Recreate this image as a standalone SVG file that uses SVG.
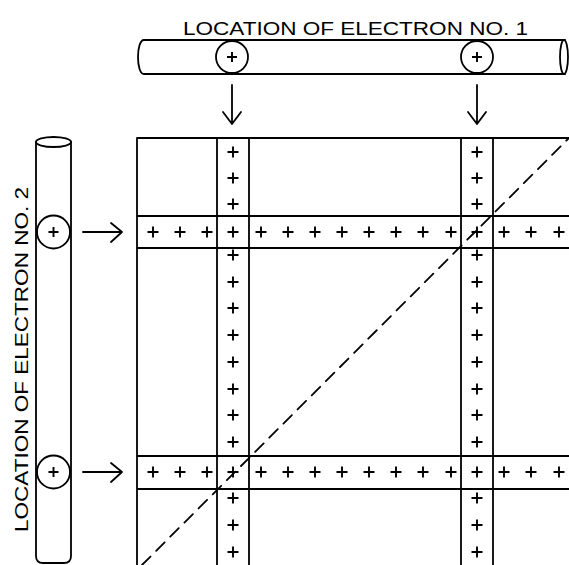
<svg xmlns="http://www.w3.org/2000/svg" xmlns:xlink="http://www.w3.org/1999/xlink" width="569" height="565" viewBox="0 0 569 565">
<style>
.ln{fill:none;stroke:#000;stroke-width:1.8;stroke-linecap:round;stroke-linejoin:round}
.pl{fill:none;stroke:#000;stroke-width:1.9}
.lbl{font-family:"Liberation Sans",Arial,sans-serif;font-size:18px;fill:#000}
</style>
<defs>
<path id="p" class="pl" d="M-5.5,0H5.5M0,-5.5V5.5"/>
<path id="ps" class="pl" d="M-5,0H5M0,-5V5"/>
</defs>
<rect width="569" height="565" fill="#fff"/>
<g id="tube1">
<text class="lbl" x="183" y="35" textLength="345" lengthAdjust="spacingAndGlyphs">LOCATION OF ELECTRON NO. 1</text>
<path class="ln" d="M565,40 H144 C136,40 136,74 144,74 H565"/>
<ellipse class="ln" cx="564" cy="57" rx="4" ry="17"/>
<circle class="ln" cx="232" cy="57" r="16" fill="#fff"/>
<use xlink:href="#ps" x="232" y="57"/>
<circle class="ln" cx="477" cy="57" r="16" fill="#fff"/>
<use xlink:href="#ps" x="477" y="57"/>
</g>
<g id="tube2">
<text class="lbl" transform="translate(28,532) rotate(-90)" x="0" y="0" textLength="345" lengthAdjust="spacingAndGlyphs">LOCATION OF ELECTRON NO. 2</text>
<path class="ln" d="M36,142 V556 Q36,563 43,563 H64 Q71,563 71,556 V142"/>
<ellipse class="ln" cx="53.5" cy="142" rx="17.5" ry="5"/>
<circle class="ln" cx="53.5" cy="232" r="16.5" fill="#fff"/>
<use xlink:href="#ps" x="53.5" y="232"/>
<circle class="ln" cx="53.5" cy="472" r="16.5" fill="#fff"/>
<use xlink:href="#ps" x="53.5" y="472"/>
</g>
<g id="grid">
<path class="ln" d="M137,138 H569 M137,138 V565 M217,138 V565 M249,138 V565 M461,138 V565 M493,138 V565 M137,216 H569 M137,248 H569 M137,456 H569 M137,489 H569"/>
<path class="ln" d="M142,565 L568,139" stroke-dasharray="12 8"/>
<g id="vband1">
<use xlink:href="#p" x="233" y="152"/><use xlink:href="#p" x="233" y="178"/><use xlink:href="#p" x="233" y="204"/>
<use xlink:href="#p" x="233" y="232"/>
<use xlink:href="#p" x="233" y="255"/><use xlink:href="#p" x="233" y="282"/><use xlink:href="#p" x="233" y="308"/><use xlink:href="#p" x="233" y="335"/><use xlink:href="#p" x="233" y="362"/><use xlink:href="#p" x="233" y="389"/><use xlink:href="#p" x="233" y="415"/><use xlink:href="#p" x="233" y="442"/>
<use xlink:href="#p" x="233" y="472"/>
<use xlink:href="#p" x="233" y="498"/><use xlink:href="#p" x="233" y="525"/><use xlink:href="#p" x="233" y="552"/>
</g>
<g id="vband2">
<use xlink:href="#p" x="477" y="152"/><use xlink:href="#p" x="477" y="178"/><use xlink:href="#p" x="477" y="204"/>
<use xlink:href="#p" x="477" y="232"/>
<use xlink:href="#p" x="477" y="255"/><use xlink:href="#p" x="477" y="282"/><use xlink:href="#p" x="477" y="308"/><use xlink:href="#p" x="477" y="335"/><use xlink:href="#p" x="477" y="362"/><use xlink:href="#p" x="477" y="389"/><use xlink:href="#p" x="477" y="415"/><use xlink:href="#p" x="477" y="442"/>
<use xlink:href="#p" x="477" y="472"/>
<use xlink:href="#p" x="477" y="498"/><use xlink:href="#p" x="477" y="525"/><use xlink:href="#p" x="477" y="552"/>
</g>
<g id="hband1">
<use xlink:href="#p" x="153" y="232"/><use xlink:href="#p" x="180" y="232"/><use xlink:href="#p" x="207" y="232"/>
<use xlink:href="#p" x="261" y="232"/><use xlink:href="#p" x="288" y="232"/><use xlink:href="#p" x="315" y="232"/><use xlink:href="#p" x="342" y="232"/><use xlink:href="#p" x="369" y="232"/><use xlink:href="#p" x="396" y="232"/><use xlink:href="#p" x="423" y="232"/><use xlink:href="#p" x="451" y="232"/>
<use xlink:href="#p" x="504" y="232"/><use xlink:href="#p" x="531" y="232"/><use xlink:href="#p" x="559" y="232"/>
</g>
<g id="hband2">
<use xlink:href="#p" x="153" y="472"/><use xlink:href="#p" x="180" y="472"/><use xlink:href="#p" x="207" y="472"/>
<use xlink:href="#p" x="261" y="472"/><use xlink:href="#p" x="288" y="472"/><use xlink:href="#p" x="315" y="472"/><use xlink:href="#p" x="342" y="472"/><use xlink:href="#p" x="369" y="472"/><use xlink:href="#p" x="396" y="472"/><use xlink:href="#p" x="423" y="472"/><use xlink:href="#p" x="451" y="472"/>
<use xlink:href="#p" x="504" y="472"/><use xlink:href="#p" x="531" y="472"/><use xlink:href="#p" x="559" y="472"/>
</g>
</g>
<g id="connectors">
<path class="ln" d="M232,85 V124 M223,112 L232,124 L241,112"/>
<path class="ln" d="M477,85 V124 M468,112 L477,124 L486,112"/>
<path class="ln" d="M83,232 H122 M111,223 L122,232 L111,242"/>
<path class="ln" d="M83,472 H122 M111,463 L122,472 L111,482"/>
</g>
</svg>
